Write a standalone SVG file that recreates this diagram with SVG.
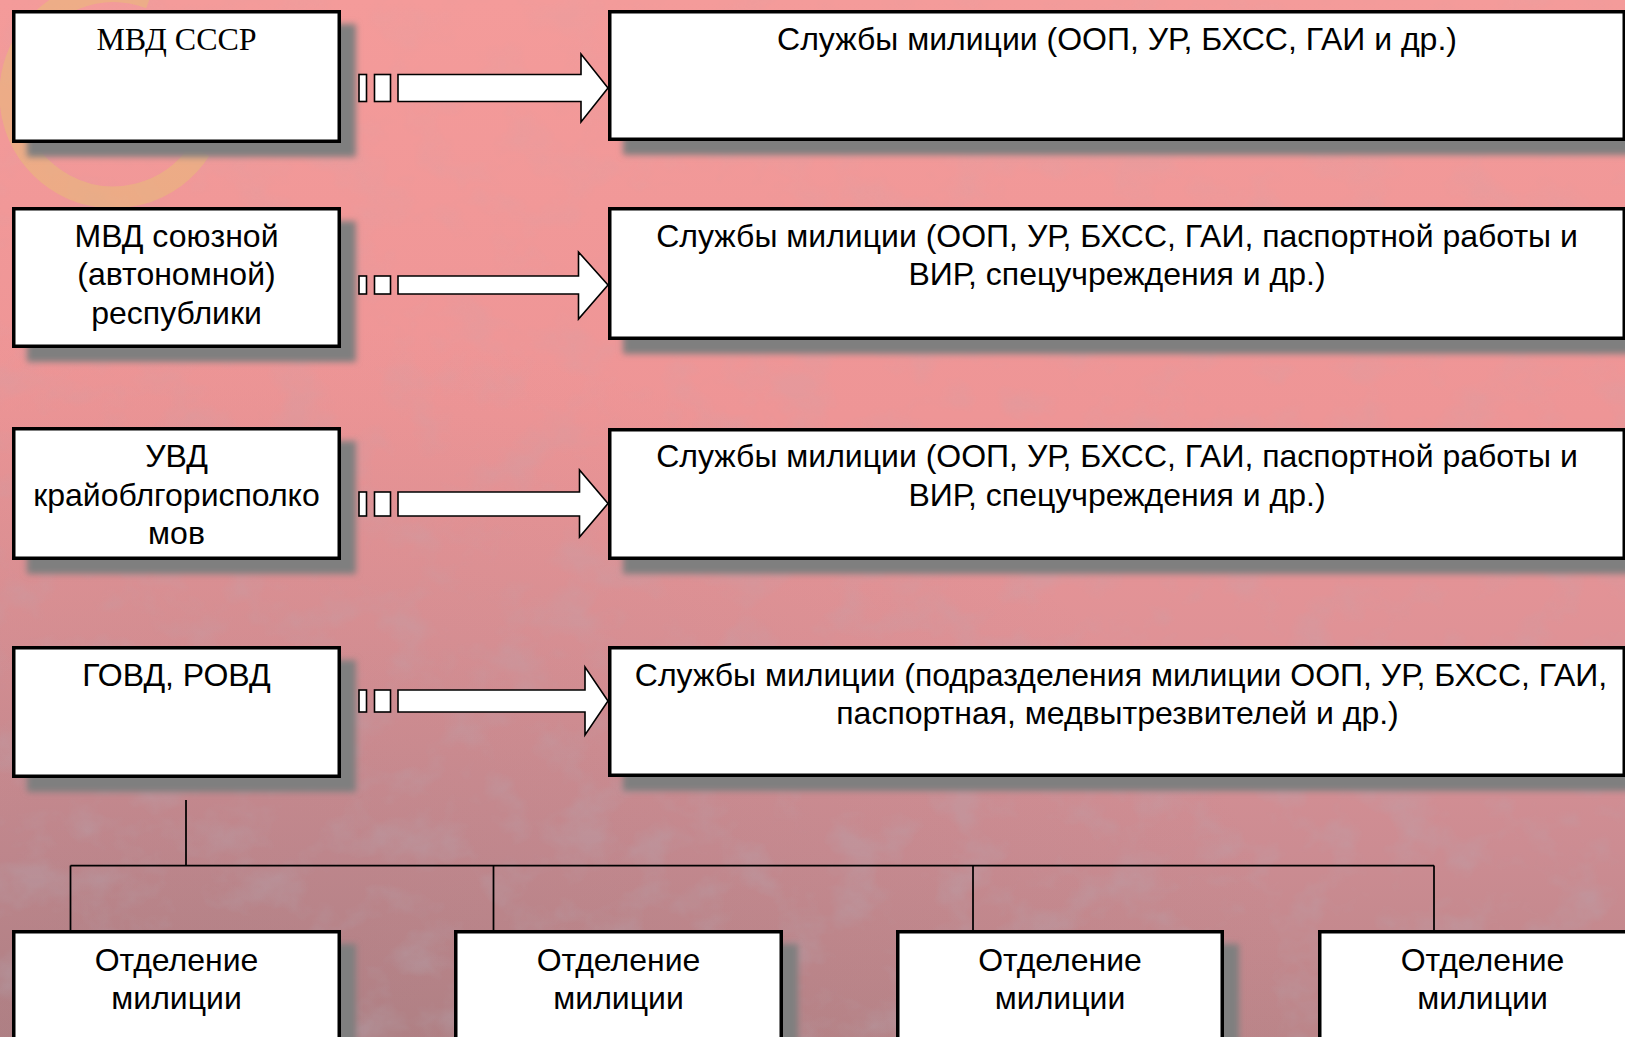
<svg xmlns="http://www.w3.org/2000/svg" width="1625" height="1037" viewBox="0 0 1625 1037">
<defs>
<style>
.box{fill:#fff;stroke:#000;stroke-width:3.5}
.sh{fill:#7f7f7f;filter:url(#blur)}
.t{font-family:"Liberation Sans",Arial,sans-serif;font-size:32px;fill:#000;text-anchor:middle}
.ts{font-family:"Liberation Serif","Times New Roman",serif;font-size:32px;fill:#000;text-anchor:middle}
.arr{fill:#fff;stroke:#000;stroke-width:1.6}
.conn{stroke:#000;stroke-width:1.75;fill:none}
</style>
<linearGradient id="bg" x1="0" y1="0" x2="0" y2="1">
<stop offset="0" stop-color="#f49b9a"/>
<stop offset="0.4" stop-color="#ee9596"/>
<stop offset="0.62" stop-color="#df9296"/>
<stop offset="0.82" stop-color="#cc8c92"/>
<stop offset="1" stop-color="#bb8589"/>
</linearGradient>
<radialGradient id="dark" cx="0.1" cy="1" r="0.7">
<stop offset="0" stop-color="#8a7075" stop-opacity="0.3"/>
<stop offset="1" stop-color="#8a7075" stop-opacity="0"/>
</radialGradient>
<linearGradient id="fade" x1="0" y1="0" x2="0" y2="1">
<stop offset="0" stop-color="#fff" stop-opacity="0.25"/>
<stop offset="0.45" stop-color="#fff" stop-opacity="0.5"/>
<stop offset="1" stop-color="#fff" stop-opacity="1"/>
</linearGradient>
<mask id="fadeMask">
<rect x="0" y="0" width="1625" height="1037" fill="url(#fade)"/>
</mask>
<filter id="blur" x="-10%" y="-20%" width="120%" height="140%">
<feGaussianBlur stdDeviation="3"/>
</filter>
<filter id="grunge" x="0" y="0" width="100%" height="100%">
<feTurbulence type="fractalNoise" baseFrequency="0.018 0.022" numOctaves="4" seed="11"/>
<feColorMatrix type="matrix" values="0 0 0 0 0.45  0 0 0 0 0.42  0 0 0 0 0.48  0 0 0 -3 1.6"/>
</filter>
</defs>

<g id="background">
<rect x="0" y="0" width="1625" height="1037" fill="url(#bg)"/>
<rect x="0" y="0" width="1625" height="1037" fill="url(#dark)"/>
<rect x="0" y="0" width="1625" height="1037" filter="url(#grunge)" opacity="0.3" mask="url(#fadeMask)"/>
<path d="M150,-2 A103,103 0 1 0 200,150" fill="none" stroke="#e6c472" stroke-width="22" opacity="0.45"/>
</g>

<g id="shadows">
<rect class="sh" x="27" y="24" width="329" height="133"/>
<rect class="sh" x="623" y="24" width="1020" height="131"/>
<rect class="sh" x="27" y="221" width="329" height="141"/>
<rect class="sh" x="623" y="221" width="1020" height="133"/>
<rect class="sh" x="27" y="441" width="329" height="133"/>
<rect class="sh" x="623" y="442" width="1020" height="132"/>
<rect class="sh" x="27" y="660" width="329" height="132"/>
<rect class="sh" x="623" y="660" width="1020" height="131"/>
<rect class="sh" x="27" y="944" width="329" height="140"/>
<rect class="sh" x="469" y="944" width="329" height="140"/>
<rect class="sh" x="911" y="944" width="328" height="140"/>
<rect class="sh" x="1333" y="944" width="329" height="140"/>
</g>

<g id="connectors">
<g id="arrow1">
<rect class="arr" x="359" y="74.5" width="7.5" height="27"/>
<rect class="arr" x="374.5" y="74.5" width="16" height="27"/>
<path class="arr" d="M398,74.5 H581 V54 L608,88 L581,122 V101.5 H398 Z"/>
</g>
<g id="arrow2">
<rect class="arr" x="359" y="276" width="7.5" height="18"/>
<rect class="arr" x="374.5" y="276" width="16" height="18"/>
<path class="arr" d="M398,276 H578.5 V252 L608,285 L578.5,319 V294 H398 Z"/>
</g>
<g id="arrow3">
<rect class="arr" x="359" y="492" width="7.5" height="24"/>
<rect class="arr" x="374.5" y="492" width="16" height="24"/>
<path class="arr" d="M398,492 H579.5 V470 L608,503.5 L579.5,537 V516 H398 Z"/>
</g>
<g id="arrow4">
<rect class="arr" x="359" y="690" width="7.5" height="22"/>
<rect class="arr" x="374.5" y="690" width="16" height="22"/>
<path class="arr" d="M398,690 H585 V667 L608,701 L585,735 V712 H398 Z"/>
</g>
<path class="conn" d="M186,800 V865.5 M70.5,865.5 H1434 M70.5,865.5 V930 M493.5,865.5 V930 M973,865.5 V930 M1434,865.5 V930"/>
</g>

<g id="n-mvd-ussr">
<rect class="box" x="13.75" y="11.75" width="325.5" height="129.5"/>
<text class="ts" x="176.5" y="50">МВД СССР</text>
</g>
<g id="n-services-1">
<rect class="box" x="609.75" y="11.75" width="1014.5" height="127.5"/>
<text class="t" x="1117" y="49.5">Службы милиции (ООП, УР, БХСС, ГАИ и др.)</text>
</g>

<g id="n-mvd-republic">
<rect class="box" x="13.75" y="208.75" width="325.5" height="137.5"/>
<text class="t" x="176.5" y="246.5">МВД союзной</text>
<text class="t" x="176.5" y="285">(автономной)</text>
<text class="t" x="176.5" y="323.5">республики</text>
</g>
<g id="n-services-2">
<rect class="box" x="609.75" y="208.75" width="1014.5" height="129.5"/>
<text class="t" x="1117" y="246.5">Службы милиции (ООП, УР, БХСС, ГАИ, паспортной работы и</text>
<text class="t" x="1117" y="285">ВИР, спецучреждения и др.)</text>
</g>

<g id="n-uvd">
<rect class="box" x="13.75" y="428.75" width="325.5" height="129.5"/>
<text class="t" x="176.5" y="467">УВД</text>
<text class="t" x="176.5" y="505.5">крайоблгорисполко</text>
<text class="t" x="176.5" y="544">мов</text>
</g>
<g id="n-services-3">
<rect class="box" x="609.75" y="429.75" width="1014.5" height="128.5"/>
<text class="t" x="1117" y="467">Службы милиции (ООП, УР, БХСС, ГАИ, паспортной работы и</text>
<text class="t" x="1117" y="505.5">ВИР, спецучреждения и др.)</text>
</g>

<g id="n-govd">
<rect class="box" x="13.75" y="647.75" width="325.5" height="128.5"/>
<text class="t" x="176.5" y="685.5">ГОВД, РОВД</text>
</g>
<g id="n-services-4">
<rect class="box" x="609.75" y="647.75" width="1014.5" height="127.5"/>
<text class="t" x="1121" y="685.5">Службы милиции (подразделения милиции ООП, УР, БХСС, ГАИ,</text>
<text class="t" x="1117.5" y="724">паспортная, медвытрезвителей и др.)</text>
</g>

<g id="n-dept-1">
<rect class="box" x="13.75" y="931.75" width="325.5" height="140"/>
<text class="t" x="176.5" y="970.5">Отделение</text>
<text class="t" x="176.5" y="1009">милиции</text>
</g>
<g id="n-dept-2">
<rect class="box" x="455.75" y="931.75" width="325.5" height="140"/>
<text class="t" x="618.5" y="970.5">Отделение</text>
<text class="t" x="618.5" y="1009">милиции</text>
</g>
<g id="n-dept-3">
<rect class="box" x="897.75" y="931.75" width="324.5" height="140"/>
<text class="t" x="1060" y="970.5">Отделение</text>
<text class="t" x="1060" y="1009">милиции</text>
</g>
<g id="n-dept-4">
<rect class="box" x="1319.75" y="931.75" width="325.5" height="140"/>
<text class="t" x="1482.5" y="970.5">Отделение</text>
<text class="t" x="1482.5" y="1009">милиции</text>
</g>
</svg>
